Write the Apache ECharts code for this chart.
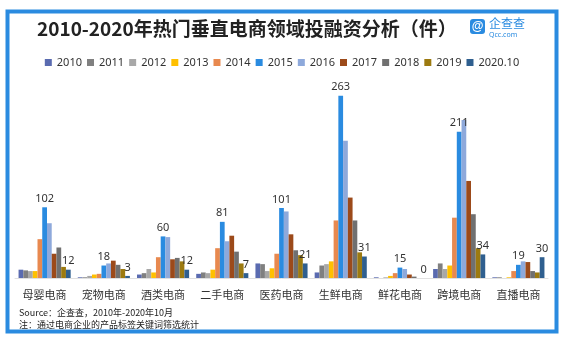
<!DOCTYPE html>
<html><head><meta charset="utf-8">
<script src="https://cdn.jsdelivr.net/npm/echarts@6/dist/echarts.min.js"></script>
<style>html,body{margin:0;padding:0;background:#fff}#c{width:564px;height:345px}</style>
</head><body><div id="c"></div>
<script>
const categories = ['母婴电商','宠物电商','酒类电商','二手电商','医药电商','生鲜电商','鲜花电商','跨境电商','直播电商'];
const seriesNames = ['2010','2011','2012','2013','2014','2015','2016','2017','2018','2019','2020.10'];
const v2010 = [12, 1, 5, 6, 21, 8, 1, 13, 1];
const v2011 = [11, 1, 7, 8, 20, 18, 0, 21, 1];
const v2012 = [10, 3, 13, 7, 10, 20, 1, 13, 0];
const v2013 = [10, 5, 8, 12, 14, 24, 3, 18, 1];
const v2014 = [56, 6, 30, 43, 35, 83, 7, 87, 10];
const v2015 = [102, 18, 60, 81, 101, 263, 15, 211, 19];
const v2016 = [79, 21, 59, 53, 96, 198, 13, 228, 24];
const v2017 = [35, 25, 27, 61, 63, 116, 5, 140, 23];
const v2018 = [44, 19, 29, 38, 40, 83, 2, 92, 10];
const v2019 = [16, 13, 24, 21, 33, 37, 0, 43, 8];
const v2020 = [12, 3, 12, 7, 21, 31, 0, 34, 30];
const allValues = [v2010, v2011, v2012, v2013, v2014, v2015, v2016, v2017, v2018, v2019, v2020];
const colors = ['#5A6BB0','#808080','#A8A8A8','#FFC000','#E8894F','#2A8BE0','#8EA9DB','#9C4A1A','#707070','#9C7A10','#2F5F8F'];
const labeled = ['2015','2020.10'];

const chart = echarts.init(document.getElementById('c'), null, {renderer:'canvas'});
const series = seriesNames.map((n,i)=>({
  name:n, type:'bar', data:allValues[i], barGap:'0%', barCategoryGap:'12%',
  itemStyle:{color:colors[i]},
  label:{show: labeled.includes(n), position:'top', fontSize:11, color:'#333', distance:3, fontFamily:'Noto Sans'}
}));
chart.setOption({
  backgroundColor:'#fff',
  animation:false,
  color:colors,
  title:{text:'2010-2020年热门垂直电商领域投融资分析（件）', left:32, top:14,
    textStyle:{fontSize:19, fontWeight:'bold', color:'#222', fontFamily:'Noto Sans CJK SC'}},
  legend:{data:seriesNames, top:52, left:'center', itemWidth:7, itemHeight:7, itemGap:5, icon:'rect',
    textStyle:{fontSize:11, color:'#333', fontFamily:'Noto Sans'}},
  grid:{left:15, right:16, top:70, bottom:67},
  xAxis:{type:'category', data:categories, axisTick:{show:false},
    axisLine:{show:true, lineStyle:{color:'#e0e0e0'}},
    axisLabel:{fontSize:11, color:'#333', margin:11, fontFamily:'Noto Sans CJK SC'}},
  yAxis:{type:'value', min:0, max:300, show:false},
  series:series,
  graphic:[
    {type:'rect', shape:{x:7.5, y:11.5, width:549, height:320}, style:{fill:'none', stroke:'#2A8BE0', lineWidth:4}, z:-1},
    {type:'rect', shape:{x:470, y:19, width:15, height:15, r:3}, style:{fill:'#2A8BE0'}},
    {type:'text', style:{x:477.5, y:26.5, text:'@', fill:'#fff', fontSize:12, fontWeight:'bold', align:'center', verticalAlign:'middle'}},
    {type:'text', style:{x:489, y:17, text:'企查查', fill:'#2A8BE0', fontSize:12, fontFamily:'Noto Sans CJK SC'}},
    {type:'text', style:{x:489, y:31, text:'Qcc.com', fill:'#2A8BE0', fontSize:7, fontFamily:'Noto Sans'}},
    {type:'text', style:{x:19, y:308, text:'Source：企查查，2010年-2020年10月', fill:'#222', fontSize:9, fontFamily:'Noto Sans CJK SC'}},
    {type:'text', style:{x:19, y:320, text:'注：通过电商企业的产品标签关键词筛选统计', fill:'#222', fontSize:9, fontFamily:'Noto Sans CJK SC'}}
  ]
});
</script></body></html>
